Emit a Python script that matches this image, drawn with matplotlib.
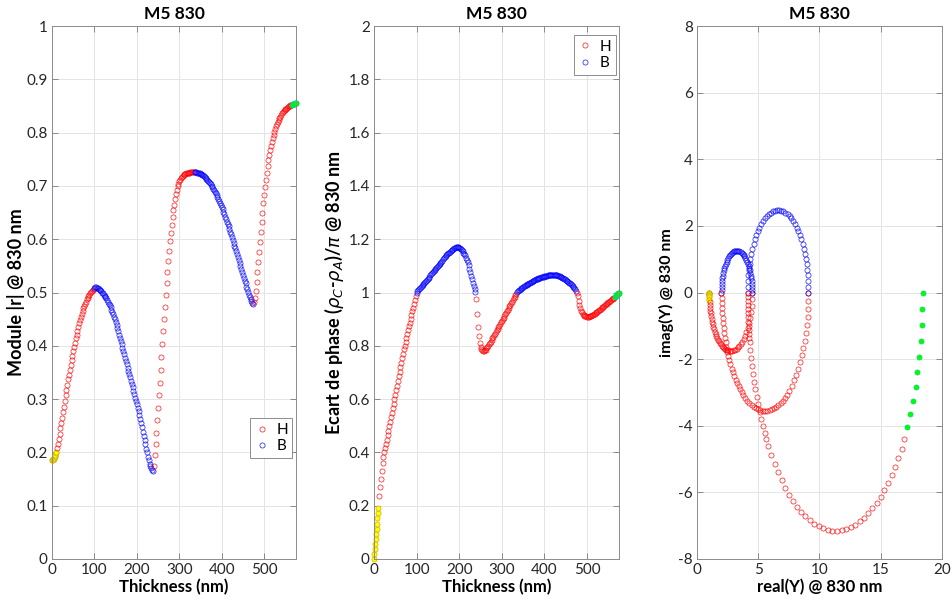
import numpy as np
import matplotlib
matplotlib.use("Agg")
import matplotlib.pyplot as plt
from matplotlib.lines import Line2D
from matplotlib.ticker import FuncFormatter

plt.rcParams["font.family"] = ["Lato", "DejaVu Sans"]
plt.rcParams["mathtext.fontset"] = "dejavusans"

# thickness samples (nm) for each part of the stack
t_Y = np.arange(0, 11)
t_H1 = np.arange(12, 99, 2)
t_B1 = np.arange(100, 239, 2)
t_H2 = np.arange(240, 335, 2)
t_B2 = np.arange(336, 475, 2)
t_H3 = np.arange(476, 565, 2)
t_G = np.arange(566, 576)

# |r| @ 830 nm
r_Y = [0.185, 0.185, 0.186, 0.187, 0.188, 0.19, 0.192, 0.194, 0.196, 0.198, 0.201]
r_H1 = [0.208, 0.216, 0.225, 0.235, 0.245, 0.255, 0.265, 0.275, 0.286, 0.297,
        0.307, 0.317, 0.327, 0.337, 0.346, 0.355, 0.364, 0.373, 0.381, 0.39,
        0.398, 0.406, 0.414, 0.421, 0.428, 0.435, 0.442, 0.448, 0.454, 0.46,
        0.465, 0.47, 0.474, 0.479, 0.483, 0.487, 0.49, 0.493, 0.496, 0.499,
        0.501, 0.503, 0.505, 0.507]
r_B1 = [0.509, 0.510, 0.510, 0.509, 0.508, 0.507, 0.505, 0.504, 0.502, 0.500,
        0.499, 0.496, 0.494, 0.491, 0.489, 0.486, 0.483, 0.479, 0.476, 0.472,
        0.468, 0.463, 0.459, 0.454, 0.45, 0.445, 0.439, 0.433, 0.427, 0.421,
        0.415, 0.409, 0.403, 0.396, 0.39, 0.384, 0.378, 0.372, 0.365, 0.359,
        0.353, 0.347, 0.341, 0.334, 0.328, 0.322, 0.316, 0.31, 0.303, 0.297,
        0.291, 0.284, 0.277, 0.27, 0.263, 0.256, 0.248, 0.239, 0.231, 0.223,
        0.215, 0.207, 0.2, 0.192, 0.185, 0.179, 0.174, 0.17, 0.167, 0.165]
r_H2 = [0.175, 0.195, 0.215, 0.237, 0.26, 0.283, 0.307, 0.331, 0.355, 0.379,
        0.403, 0.427, 0.45, 0.473, 0.496, 0.518, 0.539, 0.559, 0.578, 0.596,
        0.612, 0.627, 0.641, 0.654, 0.665, 0.675, 0.684, 0.692, 0.699, 0.704,
        0.709, 0.712, 0.715, 0.717, 0.719, 0.721, 0.722, 0.723, 0.724, 0.724,
        0.725, 0.725, 0.725, 0.726, 0.726, 0.726, 0.726, 0.726]
r_B2 = [0.726, 0.726, 0.726, 0.725, 0.725, 0.724, 0.724, 0.723, 0.722, 0.721,
        0.72, 0.718, 0.717, 0.715, 0.713, 0.711, 0.71, 0.708, 0.705, 0.703,
        0.7, 0.698, 0.695, 0.692, 0.689, 0.686, 0.682, 0.679, 0.675, 0.671,
        0.668, 0.664, 0.66, 0.656, 0.651, 0.647, 0.642, 0.638, 0.633, 0.628,
        0.624, 0.619, 0.614, 0.609, 0.604, 0.598, 0.593, 0.588, 0.583, 0.577,
        0.572, 0.566, 0.561, 0.555, 0.55, 0.544, 0.539, 0.533, 0.528, 0.522,
        0.517, 0.511, 0.506, 0.501, 0.496, 0.492, 0.488, 0.484, 0.481, 0.479]
r_H3 = [0.482, 0.49, 0.503, 0.52, 0.538, 0.557, 0.576, 0.595, 0.614, 0.632,
        0.65, 0.667, 0.683, 0.698, 0.712, 0.725, 0.737, 0.748, 0.758, 0.767,
        0.775, 0.783, 0.79, 0.796, 0.802, 0.807, 0.812, 0.816, 0.82, 0.824,
        0.827, 0.83, 0.833, 0.836, 0.838, 0.84, 0.842, 0.844, 0.845, 0.847,
        0.848, 0.849, 0.85, 0.851, 0.852]
r_G = [0.852, 0.853, 0.853, 0.853, 0.854, 0.854, 0.854, 0.855, 0.855, 0.855]

# (rho_C - rho_A)/pi @ 830 nm
ph_Y = [0, 0.019, 0.038, 0.057, 0.076, 0.095, 0.114, 0.133, 0.152, 0.171, 0.19]
ph_H1 = [0.238, 0.27, 0.302, 0.332, 0.359, 0.382, 0.4, 0.416, 0.432, 0.447,
         0.464, 0.481, 0.498, 0.515, 0.532, 0.549, 0.566, 0.583, 0.6, 0.617,
         0.634, 0.651, 0.668, 0.685, 0.702, 0.719, 0.736, 0.753, 0.77, 0.787,
         0.801, 0.816, 0.83, 0.845, 0.859, 0.873, 0.887, 0.901, 0.915, 0.929,
         0.943, 0.957, 0.971, 0.985]
ph_B1 = [1.0, 1.004, 1.008, 1.012, 1.016, 1.02, 1.024, 1.028, 1.032, 1.036,
         1.04, 1.044, 1.048, 1.052, 1.056, 1.06, 1.064, 1.068, 1.072, 1.076,
         1.08, 1.084, 1.088, 1.092, 1.096, 1.1, 1.104, 1.108, 1.112, 1.116,
         1.12, 1.124, 1.128, 1.132, 1.136, 1.14, 1.143, 1.147, 1.15, 1.153,
         1.156, 1.159, 1.161, 1.164, 1.166, 1.168, 1.169, 1.17, 1.17, 1.17,
         1.168, 1.166, 1.163, 1.159, 1.155, 1.15, 1.145, 1.139, 1.131, 1.123,
         1.113, 1.102, 1.09, 1.077, 1.063, 1.049, 1.036, 1.023, 1.012, 1.003]
ph_H2 = [0.975, 0.92, 0.872, 0.835, 0.81, 0.795, 0.787, 0.783, 0.781, 0.781,
         0.783, 0.786, 0.79, 0.795, 0.8, 0.805, 0.81, 0.816, 0.822, 0.828,
         0.834, 0.84, 0.846, 0.852, 0.858, 0.864, 0.87, 0.876, 0.882, 0.888,
         0.894, 0.9, 0.906, 0.912, 0.918, 0.924, 0.93, 0.936, 0.942, 0.948,
         0.954, 0.96, 0.966, 0.972, 0.978, 0.984, 0.99, 0.996]
ph_B2 = [1.002, 1.005, 1.008, 1.011, 1.013, 1.016, 1.018, 1.021, 1.023, 1.025,
         1.027, 1.029, 1.031, 1.033, 1.035, 1.037, 1.039, 1.041, 1.043, 1.044,
         1.046, 1.047, 1.049, 1.05, 1.052, 1.053, 1.054, 1.055, 1.057, 1.058,
         1.059, 1.06, 1.061, 1.062, 1.063, 1.063, 1.064, 1.065, 1.065, 1.066,
         1.066, 1.066, 1.066, 1.066, 1.066, 1.065, 1.065, 1.064, 1.063, 1.062,
         1.061, 1.059, 1.057, 1.055, 1.053, 1.051, 1.049, 1.047, 1.045, 1.043,
         1.04, 1.037, 1.034, 1.031, 1.028, 1.025, 1.021, 1.017, 1.012, 1.006]
ph_H3 = [0.998, 0.985, 0.968, 0.952, 0.94, 0.931, 0.925, 0.92, 0.916, 0.913,
         0.911, 0.91, 0.909, 0.909, 0.909, 0.91, 0.911, 0.913, 0.914, 0.916,
         0.918, 0.921, 0.923, 0.926, 0.928, 0.931, 0.934, 0.936, 0.939, 0.942,
         0.944, 0.947, 0.95, 0.952, 0.955, 0.958, 0.96, 0.963, 0.966, 0.968,
         0.971, 0.974, 0.976, 0.979, 0.981]
ph_G = [0.983, 0.985, 0.987, 0.989, 0.991, 0.993, 0.995, 0.997, 0.999, 1.0]

# admittance Y @ 830 nm (real, imag), read along each locus
re_Y = [1.0, 1.0, 1.0, 1.0, 1.0, 1.0, 1.001, 1.002, 1.003, 1.005, 1.008]
im_Y = [0, -0.002, -0.009, -0.021, -0.037, -0.057, -0.082, -0.111, -0.145, -0.184, -0.23]
re_H1 = [1.021, 1.038, 1.06, 1.086, 1.116, 1.151, 1.191, 1.235, 1.282, 1.334,
         1.39, 1.45, 1.513, 1.579, 1.649, 1.721, 1.796, 1.875, 1.955, 2.038,
         2.123, 2.209, 2.297, 2.386, 2.477, 2.566, 2.659, 2.75, 2.873, 2.993,
         3.114, 3.233, 3.349, 3.462, 3.571, 3.678, 3.804, 3.921, 4.029, 4.129,
         4.234, 4.323, 4.395, 4.455, 4.491, 4.5]
im_H1 = [-0.274, -0.364, -0.453, -0.541, -0.627, -0.712, -0.795, -0.875, -0.953, -1.029,
         -1.101, -1.171, -1.237, -1.301, -1.36, -1.416, -1.468, -1.516, -1.559, -1.6,
         -1.634, -1.664, -1.691, -1.712, -1.729, -1.741, -1.748, -1.75, -1.746, -1.733,
         -1.712, -1.682, -1.645, -1.6, -1.545, -1.484, -1.398, -1.3, -1.194, -1.078,
         -0.928, -0.767, -0.599, -0.394, -0.184, 0.0]
re_B1 = [4.5, 4.497, 4.488, 4.473, 4.452, 4.425, 4.392, 4.354, 4.31, 4.261,
         4.208, 4.149, 4.086, 4.02, 3.949, 3.875, 3.798, 3.718, 3.636, 3.552,
         3.467, 3.381, 3.294, 3.206, 3.119, 3.033, 2.948, 2.864, 2.782, 2.702,
         2.625, 2.551, 2.48, 2.414, 2.351, 2.292, 2.239, 2.19, 2.146, 2.108,
         2.075, 2.048, 2.027, 2.012, 2.003, 2.0]
im_B1 = [0, 0.087, 0.174, 0.26, 0.345, 0.428, 0.508, 0.587, 0.662, 0.735,
         0.804, 0.868, 0.929, 0.985, 1.036, 1.083, 1.124, 1.159, 1.189, 1.213,
         1.231, 1.243, 1.249, 1.249, 1.243, 1.231, 1.213, 1.189, 1.159, 1.124,
         1.083, 1.036, 0.985, 0.929, 0.868, 0.804, 0.735, 0.662, 0.587, 0.508,
         0.428, 0.345, 0.26, 0.174, 0.087, 0.0]
re_H2 = [2.0, 2.003, 2.014, 2.03, 2.054, 2.084, 2.121, 2.164, 2.214, 2.27,
         2.333, 2.401, 2.476, 2.556, 2.642, 2.734, 2.831, 2.933, 3.04, 3.152,
         3.268, 3.389, 3.514, 3.643, 3.775, 3.938, 4.106, 4.278, 4.453, 4.631,
         4.812, 4.995, 5.179, 5.364, 5.55, 5.736, 5.921, 6.105, 6.288, 6.469,
         6.647, 6.822, 6.994, 7.162, 7.325, 7.535, 7.736, 7.925, 8.104, 8.269,
         8.422, 8.561, 8.684, 8.793, 8.886, 8.962, 9.022, 9.065, 9.091, 9.1]
im_H2 = [0, -0.155, -0.309, -0.463, -0.616, -0.768, -0.919, -1.068, -1.214, -1.359,
         -1.5, -1.639, -1.775, -1.907, -2.036, -2.161, -2.282, -2.398, -2.51, -2.617,
         -2.719, -2.816, -2.908, -2.994, -3.074, -3.163, -3.243, -3.314, -3.376, -3.429,
         -3.472, -3.506, -3.531, -3.545, -3.55, -3.545, -3.531, -3.506, -3.472, -3.429,
         -3.376, -3.314, -3.243, -3.163, -3.074, -2.943, -2.797, -2.638, -2.466, -2.282,
         -2.087, -1.881, -1.667, -1.444, -1.214, -0.979, -0.738, -0.494, -0.248, 0.0]
re_B2 = [9.1, 9.094, 9.076, 9.046, 9.004, 8.951, 8.886, 8.81, 8.724, 8.627,
         8.521, 8.405, 8.281, 8.149, 8.009, 7.863, 7.71, 7.552, 7.39, 7.224,
         7.055, 6.884, 6.711, 6.539, 6.366, 6.195, 6.026, 5.86, 5.698, 5.54,
         5.388, 5.241, 5.101, 4.969, 4.845, 4.729, 4.623, 4.526, 4.44, 4.364,
         4.299, 4.246, 4.204, 4.174, 4.156, 4.15]
im_B2 = [0, 0.173, 0.345, 0.515, 0.682, 0.846, 1.007, 1.162, 1.312, 1.455,
         1.591, 1.719, 1.839, 1.95, 2.052, 2.143, 2.225, 2.295, 2.354, 2.401,
         2.437, 2.461, 2.474, 2.474, 2.461, 2.437, 2.401, 2.354, 2.295, 2.225,
         2.143, 2.052, 1.95, 1.839, 1.719, 1.591, 1.455, 1.312, 1.162, 1.007,
         0.846, 0.682, 0.515, 0.345, 0.173, 0.0]
re_H3 = [4.15, 4.151, 4.154, 4.16, 4.167, 4.177, 4.189, 4.203, 4.22, 4.238,
         4.259, 4.281, 4.306, 4.362, 4.427, 4.5, 4.581, 4.671, 4.768, 4.874,
         4.987, 5.108, 5.236, 5.372, 5.516, 5.666, 5.823, 6.071, 6.333, 6.609,
         6.898, 7.199, 7.511, 7.834, 8.166, 8.506, 8.855, 9.21, 9.57, 9.936,
         10.305, 10.677, 11.05, 11.425, 11.799, 12.171, 12.542, 12.908, 13.271, 13.628,
         13.978, 14.322, 14.657, 14.983, 15.298, 15.603, 15.896, 16.176, 16.443, 16.696,
         16.934]
im_H3 = [0, -0.125, -0.25, -0.374, -0.499, -0.623, -0.747, -0.871, -0.995, -1.118,
         -1.242, -1.364, -1.487, -1.73, -1.971, -2.21, -2.445, -2.678, -2.908, -3.134,
         -3.357, -3.575, -3.789, -3.998, -4.203, -4.402, -4.596, -4.876, -5.143, -5.396,
         -5.634, -5.857, -6.064, -6.254, -6.426, -6.582, -6.719, -6.838, -6.938, -7.019,
         -7.08, -7.123, -7.146, -7.149, -7.133, -7.097, -7.041, -6.967, -6.873, -6.761,
         -6.629, -6.48, -6.313, -6.129, -5.928, -5.71, -5.477, -5.229, -4.967, -4.691,
         -4.402]
re_G = [17.17, 17.42, 17.63, 17.85, 17.99, 18.15, 18.26, 18.34, 18.39, 18.45]
im_G = [-4.04, -3.66, -3.25, -2.83, -2.39, -1.93, -1.46, -0.99, -0.51, 0.0]

styles = {
    "Y": dict(mfc="#ffff00", mec="#caa400"),
    "H": dict(mfc="none", mec="#ff0000"),
    "B": dict(mfc="none", mec="#0000ff"),
    "G": dict(mfc="#00ff00", mec="#00d870"),
}

parts = [
    ("Y", t_Y, r_Y, ph_Y, re_Y, im_Y),
    ("H", t_H1, r_H1, ph_H1, re_H1, im_H1),
    ("B", t_B1, r_B1, ph_B1, re_B1, im_B1),
    ("H", t_H2, r_H2, ph_H2, re_H2, im_H2),
    ("B", t_B2, r_B2, ph_B2, re_B2, im_B2),
    ("H", t_H3, r_H3, ph_H3, re_H3, im_H3),
    ("G", t_G, r_G, ph_G, re_G, im_G),
]

fig = plt.figure(figsize=(9.53, 6.08), dpi=100)
W, H = 953, 608
ax1 = fig.add_axes([52 / W, 49 / H, 244 / W, 533 / H])
ax2 = fig.add_axes([374 / W, 49 / H, 245 / W, 533 / H])
ax3 = fig.add_axes([697 / W, 49 / H, 245 / W, 533 / H])

MS, MEW = 3.7, 0.45


def mark(ax, x, y, kind):
    ax.plot(x, y, ls="none", marker="o", ms=MS, mew=MEW, clip_on=False, **styles[kind])


for kind, t, r, ph, yre, yim in parts:
    mark(ax1, t, r, kind)
    mark(ax2, t, ph, kind)
    mark(ax3, yre, yim, kind)


def setup(ax, xlim, ylim, xticks, yticks, xlabel, ylabel, ysize=12, ypad=3):
    ax.set_xlim(xlim)
    ax.set_ylim(ylim)
    ax.set_xticks(xticks)
    ax.set_yticks(yticks)
    fmt = FuncFormatter(lambda v, p: f"{v:g}")
    ax.xaxis.set_major_formatter(fmt)
    ax.yaxis.set_major_formatter(fmt)
    ax.grid(True, color="#e4e4e4", linewidth=0.7)
    ax.set_axisbelow(True)
    ax.tick_params(direction="in", top=True, right=True, length=4, width=0.6,
                   color="#7a7a7a", labelsize=11, labelcolor="#262626", pad=3)
    for s in ax.spines.values():
        s.set_color("#8c8c8c")
        s.set_linewidth(0.7)
    ax.set_title("M5 830", fontsize=12.5, fontweight="bold", pad=5)
    ax.set_xlabel(xlabel, fontsize=12, fontweight="bold", labelpad=1)
    ax.set_ylabel(ylabel, fontsize=ysize, fontweight="bold", labelpad=ypad)


setup(ax1, (0, 575), (0, 1), range(0, 501, 100), np.arange(0, 1.01, 0.1),
      "Thickness (nm)", "Module |r| @ 830 nm", ysize=13, ypad=1)
setup(ax2, (0, 575), (0, 2), range(0, 501, 100), np.arange(0, 2.01, 0.2),
      "Thickness (nm)", r"Ecart de phase ($\rho_C$-$\rho_A$)/$\pi$ @ 830 nm", ysize=13, ypad=2)
setup(ax3, (0, 20), (-8, 8), range(0, 21, 5), range(-8, 9, 2),
      "real(Y) @ 830 nm", "imag(Y) @ 830 nm", ysize=11.5, ypad=3)

handles = [
    Line2D([], [], ls="none", marker="o", ms=MS, mew=MEW, mfc="none", mec="#ff0000", label="H"),
    Line2D([], [], ls="none", marker="o", ms=MS, mew=MEW, mfc="none", mec="#0000ff", label="B"),
]
leg_kw = dict(fontsize=11, frameon=True, fancybox=False, framealpha=1,
              edgecolor="#8c8c8c", handlelength=0.9, handletextpad=0.5,
              borderpad=0.3, labelspacing=0.15, borderaxespad=0)
l1 = ax1.legend(handles=handles, loc="center right", bbox_to_anchor=(0.985, 0.227), **leg_kw)
l2 = ax2.legend(handles=handles, loc="upper right", bbox_to_anchor=(0.987, 0.983), **leg_kw)
for lg in (l1, l2):
    lg.get_frame().set_linewidth(0.7)

fig.savefig("out.png", dpi=100)
